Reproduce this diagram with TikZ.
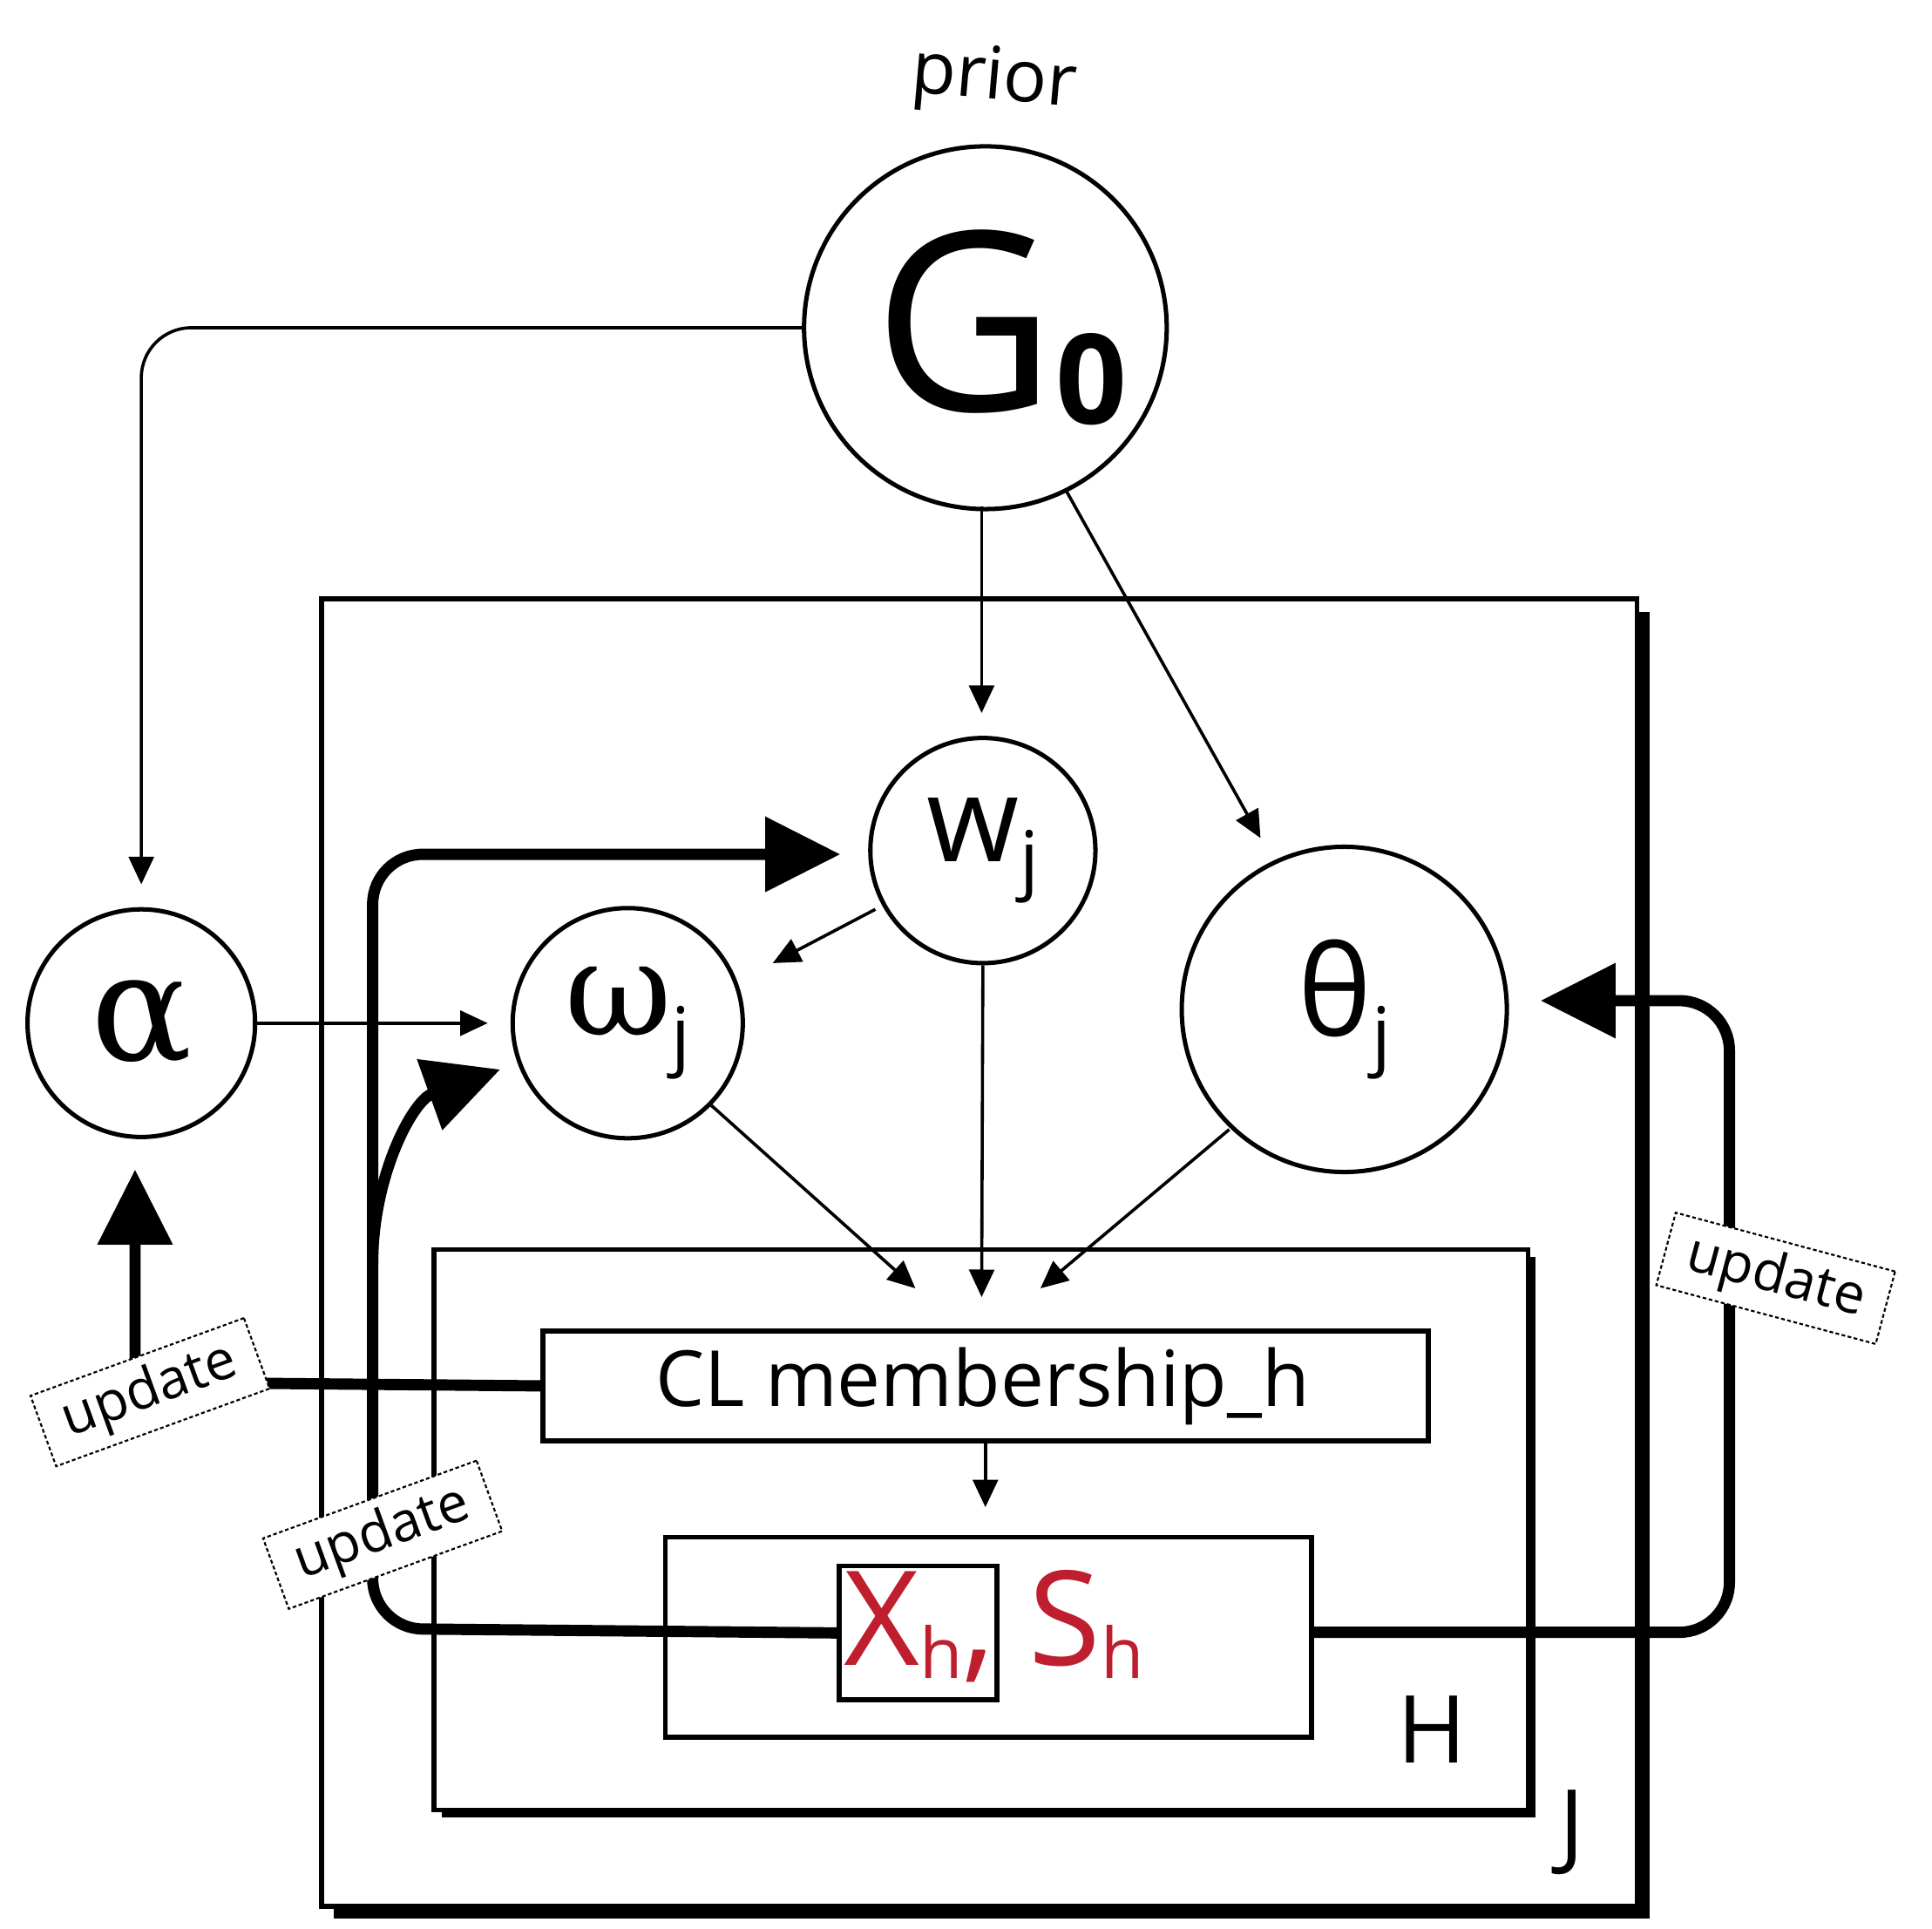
\documentclass[tikz,border=0pt]{standalone}
\usepackage{fontspec}
\setmainfont{Open Sans}
\newfontfamily\grk{DejaVu Serif}
\usetikzlibrary{arrows.meta}
\definecolor{dred}{RGB}{190,30,45}
\begin{document}
\begin{tikzpicture}[x=1pt,y=-1pt,
  circ/.style={draw,circle,line width=3.5pt,inner sep=0pt},
  thin/.style={line width=2.5pt,-{Triangle[length=22pt,width=20pt]}},
  thick/.style={line width=9pt,rounded corners=40pt,-{Triangle[length=60pt,width=58pt]}},
  box/.style={draw,line width=4pt,inner sep=0pt,anchor=north west},
  upd/.style={draw,densely dashed,line width=1.5pt,fill=white,font=\fontsize{44}{50}\selectfont,inner xsep=18pt,inner ysep=8pt}]
\useasboundingbox[fill=white] (0,0) rectangle (1545,1542);
% J plate with shadow
\fill (267,489) rectangle (1319,1534);
\node[box,fill=white,minimum width=1052pt,minimum height=1045pt] (J) at (255,477) {};
\node[font=\fontsize{75}{80}\selectfont] (Jl) at (1257,1465) {J};
% H plate
\fill (353,1005) rectangle (1228,1453);
\node[box,fill=white,minimum width=875pt,minimum height=448pt] (H) at (345,997) {};
\node[font=\fontsize{75}{80}\selectfont] (Hl) at (1145,1383) {H};
% nodes
\node[circ,minimum size=290pt] (G) at (788,262) {};
\node (Gt) at (800,262) {\fontsize{200}{200}\selectfont G\raisebox{-0.05em}{\fontsize{100}{100}\selectfont\bfseries 0}};
\node[rotate=-5,font=\fontsize{58}{60}\selectfont] (prior) at (795,65) {prior};
\node[circ,minimum size=182pt] (a) at (113,818) {\grk\fontsize{120}{120}\selectfont α};
\node[circ,minimum size=184pt] (o) at (502,818) {\grk\fontsize{105}{105}\selectfont ω\raisebox{-0.2em}{\normalfont\fontsize{60}{60}\selectfont j}};
\node[circ,minimum size=180pt] (w) at (786,680) {\fontsize{95}{95}\selectfont w\raisebox{-0.2em}{\fontsize{60}{60}\selectfont j}};
\node[circ,minimum size=260pt] (t) at (1075,807) {\fontsize{100}{100}\selectfont θ\raisebox{-0.2em}{\fontsize{60}{60}\selectfont j}};
\node[box,minimum width=708pt,minimum height=88pt] (CL) at (432,1062) {};
\node[font=\fontsize{62}{62}\selectfont] (CLt) at (786,1108) {CL membership\_h};
\node[box,minimum width=517pt,minimum height=160pt] (XS) at (530,1227) {};
\node[box,minimum width=126pt,minimum height=107pt] (X) at (669,1250) {};
\node[text=dred,font=\fontsize{105}{105}\selectfont] (XSt) at (795,1300) {X\raisebox{-0.1em}{\fontsize{56}{56}\selectfont h}, S\raisebox{-0.1em}{\fontsize{56}{56}\selectfont h}};
% thin arrows
\draw[thin,rounded corners=40pt] (G.west) -- (113,262) -- (113,707);
\draw[thin] (785,405) -- (785,570);
\draw[thin] (853,393) -- (1008,670);
\draw[thin] (a.east) -- (390,818);
\draw[thin] (700,727) -- (618,770);
\draw[thin] (568,883) -- (732,1030);
\draw[thin] (w.south) -- (785,1037);
\draw[thin] (983,903) -- (832,1030);
\draw[thin] (CL.south -| 788,0) -- (788,1205);
% thick arrows
\draw[thick] (X.west) -- (298,1302) -- (298,683) -- (672,683);
\draw[thick,rounded corners=0pt] (298,1010) .. controls (298,940) and (330,880) .. (400,855);
\draw[thick,rounded corners=0pt] (CL.west) -- (108,1105) -- (108,935);
\draw[thick] (XS.east |- 0,1305) -- (1383,1305) -- (1383,800) -- (1232,800);
% update labels
\node[upd,rotate=20] (u1) at (120,1113) {update};
\node[upd,rotate=20] (u2) at (306,1227) {update};
\node[upd,rotate=-15] (u3) at (1420,1022) {update};
\end{tikzpicture}
\end{document}
